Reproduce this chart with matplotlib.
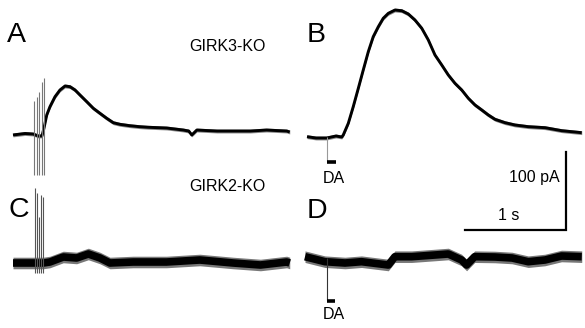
import matplotlib
matplotlib.use("Agg")
import matplotlib.pyplot as plt

plt.rcParams['font.family'] = ['Liberation Sans', 'DejaVu Sans']

# trace A (GIRK3-KO, stim train): time from trace start (s), current above baseline (pA)
a_t = [0.00, 0.119, 0.20, 0.248, 0.287, 0.307, 0.334, 0.366, 0.416, 0.465, 0.515,
       0.564, 0.614, 0.663, 0.730, 0.795, 0.861, 0.928, 0.993, 1.059, 1.158,
       1.257, 1.337, 1.522, 1.686, 1.74, 1.77, 1.79, 1.82, 2.02, 2.35, 2.51,
       2.71, 2.74]
a_i = [-0.6, 1.3, 0.6, -1.9, -1.9, 8.4, 25.3, 36.1, 49.1, 57.8, 63.0,
       62.1, 57.8, 51.3, 42.6, 34.0, 27.5, 21.0, 15.3, 13.2, 11.4,
       10.1, 9.4, 8.4, 5.8, 4.5, -0.6, 1.9, 5.8, 4.5, 4.5, 5.8,
       4.5, 3.2]

# trace B (GIRK3-KO, DA)
b_t = [0.0, 0.089, 0.195, 0.287, 0.344, 0.359, 0.409, 0.458, 0.508, 0.557, 0.607,
       0.656, 0.706, 0.755, 0.805, 0.871, 0.938, 1.003, 1.069, 1.136, 1.201,
       1.267, 1.334, 1.399, 1.465, 1.532, 1.597, 1.663, 1.730, 1.795, 1.861,
       1.960, 2.059, 2.191, 2.356, 2.522, 2.72]
b_i = [0.4, -1.3, -1.3, 1.3, 0.0, 2.6, 17.8, 39.4, 63.2, 87.0, 110.8,
       130.3, 143.2, 154.2, 160.6, 164.9, 164.0, 159.7, 151.9, 141.2, 126.0,
       106.5, 93.5, 80.5, 69.7, 61.0, 50.3, 41.6, 35.1, 28.6, 23.0,
       18.6, 15.6, 13.4, 12.1, 8.2, 5.6]

# trace C (GIRK2-KO, stim train)
c_t = [0.0, 0.30, 0.366, 0.498, 0.63, 0.746, 0.861, 0.96, 1.19, 1.52, 1.85,
       2.18, 2.45, 2.71, 2.74]
c_i = [0.0, 0.0, 1.3, 7.8, 6.5, 11.7, 6.5, 0.0, 1.3, 1.3, 3.9,
       0.0, -2.6, 1.3, 0.0]

# trace D (GIRK2-KO, DA)
d_t = [0.0, 0.198, 0.396, 0.56, 0.825, 0.89, 1.056, 1.287, 1.419, 1.55, 1.60,
       1.68, 1.88, 2.05, 2.21, 2.376, 2.54, 2.74]
d_i = [1.7, -4.8, -6.5, -4.8, -9.1, 1.7, 1.7, 3.9, 5.2, -2.6, -9.1,
       1.7, 1.3, 0.0, -4.8, -2.6, 2.6, 1.7]

# stimulus artifacts: time, top, bottom (pA)
art_a_t = [0.208, 0.238, 0.257, 0.287, 0.307]
art_a_top = [43.5, 48.7, 55.2, 68.2, 73.4]
art_a_bot = -52.6
art_c_t = [0.218, 0.238, 0.257, 0.277, 0.297]
art_c_top = [97.4, 90.9, 59.7, 88.3, 85.7]
art_c_bot = -13.0

# DA application: start, end (s), artifact depth (pA)
da_b = (0.198, 0.287, -31.2)
da_d = (0.218, 0.297, -54.5)

PX_PER_S = 101.0
PX_PER_100PA = 77.0


def X(px):
    return px / PX_PER_S


def Y(py):
    return (328 - py) * 100.0 / PX_PER_100PA


fig = plt.figure(figsize=(5.85, 3.28), dpi=100)
ax = fig.add_axes([0, 0, 1, 1])
ax.set_xlim(0, X(585))
ax.set_ylim(0, Y(0))
ax.axis('off')

offsets = {'A': (X(13), Y(134.5)), 'B': (X(307), Y(137)),
           'C': (X(13), Y(263)), 'D': (X(305), Y(258))}


def trace(key, t, i, lw, band=0, band_color='#3a3a3a'):
    x0, y0 = offsets[key]
    xs = [x0 + v for v in t]
    ys = [y0 + v for v in i]
    if band:
        ax.fill_between(xs, [v - band for v in ys], [v + band for v in ys],
                        color=band_color, lw=0, alpha=0.6)
    ax.plot(xs, ys, color='black', lw=lw, solid_capstyle='butt',
            solid_joinstyle='round')


trace('A', a_t, a_i, 2.1, band=2.5)
trace('B', b_t, b_i, 2.1, band=2.5)
# noisy recordings: dark core with a fainter fringe
trace('C', c_t, c_i, 5.5, band=7.5, band_color='#1e1e1e')
trace('D', d_t, d_i, 5.5, band=7.5, band_color='#1e1e1e')

# artifacts
x0, y0 = offsets['A']
for t, top in zip(art_a_t, art_a_top):
    ax.vlines(x0 + t, y0 + art_a_bot, y0 + top, color='#777777', lw=0.8)
x0, y0 = offsets['C']
for t, top in zip(art_c_t, art_c_top):
    ax.vlines(x0 + t, y0 + art_c_bot, y0 + top, color='#555555', lw=0.8)

for key, (ts, te, depth), bar_py, txt_py in [('B', da_b, 162, 183), ('D', da_d, 301, 319)]:
    x0, y0 = offsets[key]
    ax.vlines(x0 + ts, y0 + depth, y0, color='#999999' if key == 'B' else '#333333', lw=0.8)
    ax.plot([x0 + ts, x0 + te], [Y(bar_py), Y(bar_py)], color='black', lw=2.6,
            solid_capstyle='butt')
    ax.text(X(334), Y(txt_py), 'DA', fontsize=11.5, ha='center', va='baseline')

# scale bar
ax.plot([X(465), X(566), X(566)], [Y(229.5), Y(229.5), Y(229.5) + 100],
        color='black', lw=1.6, solid_joinstyle='miter')
ax.text(X(560), Y(182), '100 pA', fontsize=11.5, ha='right', va='baseline')
ax.text(X(509), Y(220), '1 s', fontsize=11.5, ha='center', va='baseline')

# panel letters and genotype labels
for lab, px, py in [('A', 7, 42), ('B', 307, 42), ('C', 9, 217), ('D', 307, 218)]:
    ax.text(X(px), Y(py), lab, fontsize=20.5, ha='left', va='baseline')
ax.text(X(227), Y(51), 'GIRK3-KO', fontsize=11.5, ha='center', va='baseline')
ax.text(X(227), Y(191), 'GIRK2-KO', fontsize=11.5, ha='center', va='baseline')

fig.savefig('out.png', dpi=100, facecolor='white')
